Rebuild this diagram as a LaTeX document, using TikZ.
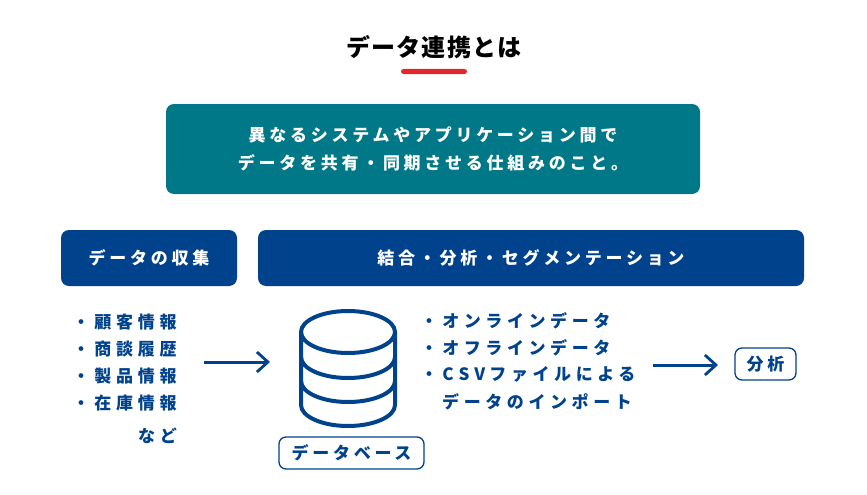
\documentclass[tikz,border=0pt]{standalone}
\usepackage{fontspec}
\usetikzlibrary{arrows.meta}
\setmainfont{Noto Sans CJK JP}
\newfontfamily\jpa[LetterSpace=22]{Noto Sans CJK JP}
\newfontfamily\jpr[LetterSpace=27]{Noto Sans CJK JP}
\newfontfamily\jpb[LetterSpace=28]{Noto Sans CJK JP}
\newfontfamily\jpt[LetterSpace=5]{Noto Sans CJK JP}
\definecolor{navy}{HTML}{00428C}
\definecolor{tealb}{HTML}{007888}
\definecolor{redb}{HTML}{E0282E}
\tikzset{
 x=1pt,y=-1pt,
 panel/.style={rounded corners=8pt,draw=none,inner sep=0pt,text=white,align=center},
 tag/.style={rounded corners=7pt,draw=navy,line width=1.3pt,fill=white,inner sep=0pt,text=navy},
 listitem/.style={anchor=west,inner sep=0pt,text=navy,font=\bfseries\jpb\fontsize{17}{17}\selectfont},
 listitemb/.style={anchor=west,inner sep=0pt,text=navy,font=\bfseries\jpr\fontsize{17}{17}\selectfont},
 flow/.style={draw=navy,line width=3pt,-{Straight Barb[length=11pt,width=20pt,line width=2.8pt]}},
 dbline/.style={draw=navy,line width=4pt},
}
\begin{document}
\begin{tikzpicture}
\useasboundingbox (0,0) rectangle (867,495);
\fill[white] (0,0) rectangle (867,495);
\node[inner sep=0pt,font=\bfseries\jpt\fontsize{24}{24}\selectfont] (title) at (434,47) {データ連携とは};
\fill[redb,rounded corners=2.5pt] (401,69) rectangle (467,74);
\node[panel,fill=tealb,minimum width=534pt,minimum height=90pt,font=\jpa\fontsize{17}{28}\bfseries\selectfont] (def) at (433,149) {異なるシステムやアプリケーション間で\\データを共有・同期させる仕組みのこと。};
\node[panel,fill=navy,minimum width=176pt,minimum height=56pt,font=\bfseries\jpa\fontsize{17}{17}\selectfont] (collect) at (149,258) {データの収集};
\node[panel,fill=navy,minimum width=546pt,minimum height=56pt,font=\bfseries\jpa\fontsize{17}{17}\selectfont] (merge) at (531,258) {結合・分析・セグメンテーション};
\node[listitem] (l1) at (72.5,322) {・顧客情報};
\node[listitem] (l2) at (72.5,349) {・商談履歴};
\node[listitem] (l3) at (72.5,376) {・製品情報};
\node[listitem] (l4) at (72.5,403) {・在庫情報};
\node[listitem] (l5) at (138,436) {など};
\node[listitemb] (r1) at (420.5,320.5) {・オンラインデータ};
\node[listitemb] (r2) at (420.5,347.5) {・オフラインデータ};
\node[listitemb] (r3) at (420.5,374.5) {・C\kern5pt S\kern5pt V\kern4pt ファイルによる};
\node[listitemb] (r4) at (442,401.5) {データのインポート};
% database
\draw[dbline] (348,332) ellipse [x radius=47,y radius=21];
\draw[dbline] (301,332) -- (301,405) arc[start angle=180,end angle=0,x radius=47,y radius=21] -- (395,332);
\draw[dbline] (301,357) arc[start angle=180,end angle=0,x radius=47,y radius=21];
\draw[dbline] (301,381) arc[start angle=180,end angle=0,x radius=47,y radius=21];
\node[tag,minimum width=145pt,minimum height=32pt,font=\bfseries\jpa\fontsize{17}{17}\selectfont] (db) at (351.5,453) {データベース};
\node[tag,minimum width=61pt,minimum height=32pt,font=\bfseries\jpa\fontsize{17}{17}\selectfont] (ana) at (765.5,364) {分析};
\coordinate (a1s) at (204,362);
\coordinate (a1e) at (270,362);
\coordinate (a2s) at (653,365);
\coordinate (a2e) at (718,365);
\draw[flow] (a1s) -- (a1e);
\draw[flow] (a2s) -- (a2e);
\end{tikzpicture}
\end{document}
